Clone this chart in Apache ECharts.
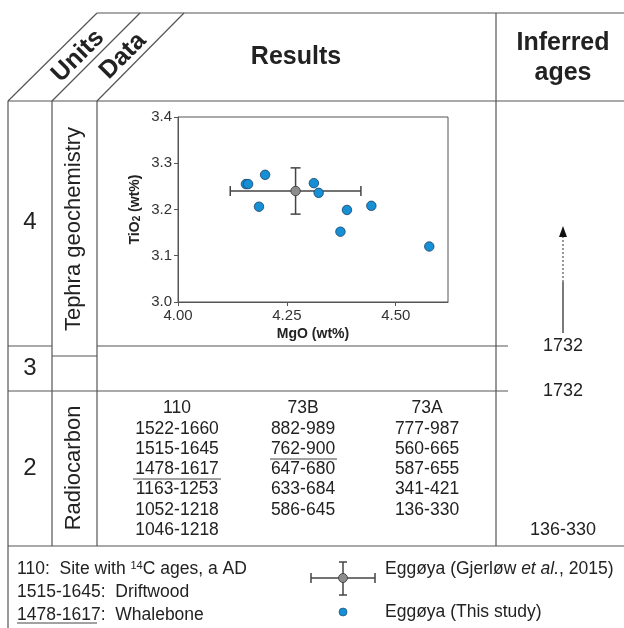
<!DOCTYPE html>
<html><head><meta charset="utf-8">
<script src="https://cdn.jsdelivr.net/npm/echarts@6/dist/echarts.min.js"></script>
<style>html,body{margin:0;padding:0;background:#fff}#c{width:624px;height:628px}</style>
</head><body><div id="c"></div>
<script>
// ---- data ----
const mgo  = [4.156, 4.161, 4.200, 4.186, 4.312, 4.323, 4.388, 4.373, 4.444, 4.577];
const tio2 = [3.255, 3.255, 3.275, 3.206, 3.257, 3.236, 3.199, 3.152, 3.208, 3.120];
const refMgo = [4.27];
const refTio2 = [3.24];
const refErrMgo = [0.15];
const refErrTio2 = [0.05];
const units = ['4', '3', '2'];
const dataTypes = ['Tephra geochemistry', 'Radiocarbon'];
const sites = ['110', '73B', '73A'];
const ages110 = ['1522-1660', '1515-1645', '1478-1617', '1163-1253', '1052-1218', '1046-1218'];
const ages73B = ['882-989', '762-900', '647-680', '633-684', '586-645'];
const ages73A = ['777-987', '560-665', '587-655', '341-421', '136-330'];
const inferredAges = ['1732', '1732', '136-330'];

const FONT = '"Liberation Sans", Arial, sans-serif';
const LC = '#555';
const TC = '#222';

const g = [];
function L(x1, y1, x2, y2, extra) {
  g.push(Object.assign({type: 'line', silent: true, shape: {x1, y1, x2, y2},
    style: {stroke: LC, lineWidth: 1.2}}, extra || {}));
}
function T(text, x, y, size, opts) {
  opts = opts || {};
  g.push({type: 'text', silent: true, x, y, rotation: opts.rotation || 0,
    style: {text, fontSize: size, fontFamily: FONT, fontWeight: opts.bold ? 'bold' : 'normal',
      fill: TC, align: opts.align || 'center', verticalAlign: 'middle', rich: opts.rich}});
}

// header
L(97, 13, 624, 13);
L(8, 101, 624, 101);
L(8, 101, 97, 13);
L(52, 101, 140, 13);
L(97, 101, 184, 13);
T('Units', 78, 56, 25, {bold: true, rotation: Math.PI / 4});
T('Data', 123, 56, 25, {bold: true, rotation: Math.PI / 4});
T('Results', 296, 57, 25, {bold: true});
T('Inferred', 563, 43, 25, {bold: true});
T('ages', 563, 73, 25, {bold: true});

// body grid
L(8, 101, 8, 628);
L(52, 101, 52, 546);
L(97, 101, 97, 546);
L(496, 13, 496, 546);
L(8, 346, 52, 346);
L(97, 346, 508, 346);
L(52, 356, 97, 356);
L(8, 391, 508, 391);
L(8, 546, 624, 546);

// units and data types
T(units[0], 30, 222, 24);
T(units[1], 30, 368, 24);
T(units[2], 30, 468, 24);
T(dataTypes[0], 74, 229, 22, {rotation: Math.PI / 2});
T(dataTypes[1], 74, 468, 22, {rotation: Math.PI / 2});

// radiocarbon table
const colX = [177, 303, 427];
const cols = [ages110, ages73B, ages73A];
sites.forEach((s, i) => T(s, colX[i], 408, 17.5));
cols.forEach((arr, i) => arr.forEach((a, j) => T(a, colX[i], 429 + j * 20.2, 17.5)));
L(133, 479, 221, 479, {style: {stroke: '#444', lineWidth: 1}});
L(270, 459, 337, 459, {style: {stroke: '#444', lineWidth: 1}});

// inferred ages
T(inferredAges[0], 563, 346, 18);
T(inferredAges[1], 563, 391, 18);
T(inferredAges[2], 563, 530, 18);
L(563, 333, 563, 282, {style: {stroke: '#222', lineWidth: 1.2}});
L(563, 282, 563, 236, {style: {stroke: '#444', lineWidth: 1.1, lineDash: [2, 2]}});
g.push({type: 'polygon', silent: true, shape: {points: [[563, 226], [559, 237], [567, 237]]}, style: {fill: '#111'}});

// footnote
T('110:  Site with {sup|14}C ages, a AD', 17, 569, 17.5, {align: 'left',
  rich: {sup: {fontSize: 11, fontFamily: FONT, fill: TC, verticalAlign: 'top'}}});
T('1515-1645:  Driftwood', 17, 592, 17.5, {align: 'left'});
T('1478-1617:  Whalebone', 17, 615, 17.5, {align: 'left'});
L(17, 623, 97, 623, {style: {stroke: '#444', lineWidth: 1}});

// legend
const ebs = {stroke: '#444', lineWidth: 1.5};
L(311, 578, 375, 578, {style: ebs});
L(311, 573, 311, 583, {style: ebs});
L(375, 573, 375, 583, {style: ebs});
L(343, 562, 343, 595, {style: ebs});
L(339, 562, 347, 562, {style: ebs});
L(339, 595, 347, 595, {style: ebs});
g.push({type: 'circle', silent: true, shape: {cx: 343, cy: 578, r: 4.5}, style: {fill: '#8c8c8c', stroke: '#333', lineWidth: 0.8}});
g.push({type: 'circle', silent: true, shape: {cx: 343, cy: 612, r: 4}, style: {fill: '#1590d5', stroke: '#1c3f63', lineWidth: 0.6}});
T('{n|Eggøya (Gjerløw }{i|et al.}{n|, 2015)}', 385, 569, 17.5, {align: 'left',
  rich: {n: {fontSize: 17.5, fontFamily: FONT, fill: TC}, i: {fontSize: 17.5, fontFamily: FONT, fill: TC, fontStyle: 'italic'}}});
T('Eggøya (This study)', 385, 612, 17.5, {align: 'left'});

const chart = echarts.init(document.getElementById('c'), null, {renderer: 'canvas'});
chart.setOption({
  animation: false,
  backgroundColor: '#fff',
  grid: {left: 178, top: 117, width: 270, height: 185, show: true, borderColor: LC, borderWidth: 1, backgroundColor: 'transparent'},
  xAxis: {
    type: 'value', min: 4.0, max: 4.62, interval: 0.25,
    name: 'MgO (wt%)', nameLocation: 'middle', nameGap: 25,
    nameTextStyle: {fontFamily: FONT, fontSize: 14, fontWeight: 'bold', color: TC},
    axisLine: {show: true, lineStyle: {color: LC, width: 1}},
    axisTick: {show: true, length: 4, lineStyle: {color: LC}},
    splitLine: {show: false},
    axisLabel: {fontFamily: FONT, fontSize: 15, color: '#333', margin: 6, showMaxLabel: false,
      formatter: v => v.toFixed(2)}
  },
  yAxis: {
    type: 'value', min: 3.0, max: 3.4, interval: 0.1,
    name: 'TiO{sub|2} (wt%)', nameLocation: 'middle', nameGap: 36, nameRotate: 90,
    nameTextStyle: {fontFamily: FONT, fontSize: 14, fontWeight: 'bold', color: TC,
      rich: {sub: {fontFamily: FONT, fontSize: 10, fontWeight: 'bold', color: TC, verticalAlign: 'bottom'}}},
    axisLine: {show: true, lineStyle: {color: LC, width: 1}},
    axisTick: {show: true, length: 4, lineStyle: {color: LC}},
    splitLine: {show: false},
    axisLabel: {fontFamily: FONT, fontSize: 15, color: '#333', margin: 6,
      formatter: v => v.toFixed(1)}
  },
  series: [
    {
      type: 'custom', z: 2,
      data: refMgo.map((m, i) => [m, refTio2[i], refErrMgo[i], refErrTio2[i]]),
      renderItem: function (params, api) {
        const x = api.value(0), y = api.value(1), ex = api.value(2), ey = api.value(3);
        const l = api.coord([x - ex, y]), r = api.coord([x + ex, y]);
        const t = api.coord([x, y + ey]), b = api.coord([x, y - ey]);
        const st = {stroke: '#444', lineWidth: 1.5};
        const cap = 5;
        return {type: 'group', children: [
          {type: 'line', shape: {x1: l[0], y1: l[1], x2: r[0], y2: r[1]}, style: st},
          {type: 'line', shape: {x1: t[0], y1: t[1], x2: b[0], y2: b[1]}, style: st},
          {type: 'line', shape: {x1: l[0], y1: l[1] - cap, x2: l[0], y2: l[1] + cap}, style: st},
          {type: 'line', shape: {x1: r[0], y1: r[1] - cap, x2: r[0], y2: r[1] + cap}, style: st},
          {type: 'line', shape: {x1: t[0] - cap, y1: t[1], x2: t[0] + cap, y2: t[1]}, style: st},
          {type: 'line', shape: {x1: b[0] - cap, y1: b[1], x2: b[0] + cap, y2: b[1]}, style: st}
        ]};
      }
    },
    {
      type: 'scatter', z: 3, symbolSize: 9.5,
      data: refMgo.map((m, i) => [m, refTio2[i]]),
      itemStyle: {color: '#8c8c8c', borderColor: '#333', borderWidth: 0.8, opacity: 1}
    },
    {
      type: 'scatter', z: 4, symbolSize: 9.5,
      data: mgo.map((m, i) => [m, tio2[i]]),
      itemStyle: {color: '#1590d5', borderColor: '#1c3f63', borderWidth: 0.8, opacity: 1}
    }
  ],
  graphic: g
});
</script>
</body></html>
